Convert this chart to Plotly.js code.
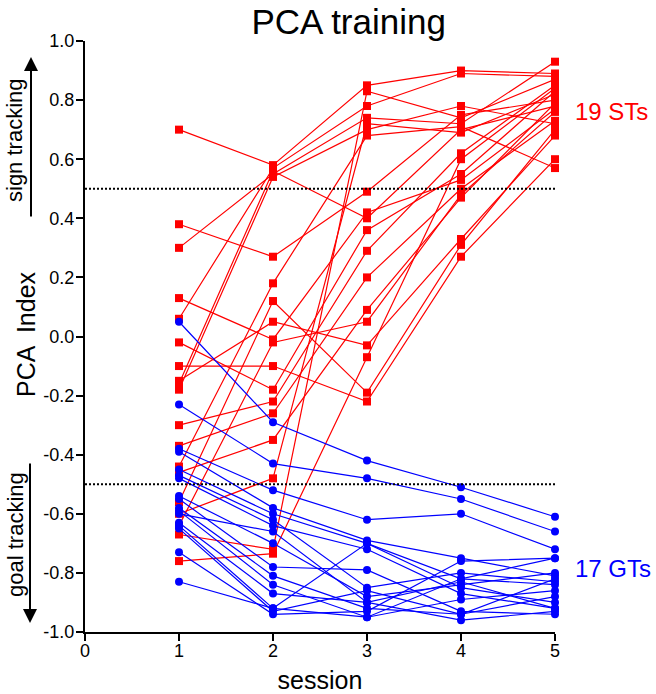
<!DOCTYPE html>
<html>
<head>
<meta charset="utf-8">
<script src="https://cdn.plot.ly/plotly-3.0.1.min.js"></script>
<style>html,body{margin:0;padding:0;background:#fff;}#chart{width:656px;height:694px;}</style>
</head>
<body>
<div id="chart"></div>
<script>
// ---- data ----
const sessions = [1, 2, 3, 4, 5];
const xTickVals = [0, 1, 2, 3, 4, 5];
const yTickVals = [1.0, 0.8, 0.6, 0.4, 0.2, 0.0, -0.2, -0.4, -0.6, -0.8, -1.0];
const thresholds = [0.5, -0.5];

// sign trackers (STs), PCA index per session
const stRats = [
  [0.70, 0.58, 0.85, 0.90, 0.89],
  [0.38, 0.27, 0.49, 0.75, 0.80],
  [0.30, 0.55, 0.74, 0.72, 0.93],
  [0.13, -0.01, 0.42, 0.53, 0.77],
  [0.06, 0.57, 0.78, 0.89, 0.88],
  [-0.02, -0.18, 0.36, 0.55, 0.83],
  [-0.10, -0.10, -0.22, 0.27, 0.60],
  [-0.15, 0.05, -0.03, 0.33, 0.68],
  [-0.18, 0.54, 0.70, 0.78, 0.72],
  [-0.30, -0.22, 0.29, 0.62, 0.85],
  [-0.37, -0.26, 0.20, 0.50, 0.73],
  [-0.44, 0.18, 0.68, 0.71, 0.57],
  [-0.46, -0.35, 0.09, 0.47, 0.79],
  [-0.56, 0.12, -0.19, 0.31, 0.70],
  [-0.60, -0.48, 0.72, 0.69, 0.82],
  [-0.64, -0.02, 0.05, 0.48, 0.76],
  [-0.67, -0.72, 0.83, 0.74, 0.87],
  [-0.76, -0.735, -0.07, 0.60, 0.84],
  [-0.16, 0.56, 0.40, 0.70, 0.78]
];

// goal trackers (GTs)
const gtRats = [
  [0.05, -0.29, -0.42, -0.51, -0.61],
  [-0.23, -0.43, -0.48, -0.55, -0.66],
  [-0.38, -0.52, -0.62, -0.60, -0.72],
  [-0.39, -0.58, -0.69, -0.75, -0.81],
  [-0.45, -0.60, -0.70, -0.82, -0.75],
  [-0.47, -0.62, -0.85, -0.80, -0.83],
  [-0.48, -0.64, -0.72, -0.87, -0.92],
  [-0.54, -0.70, -0.88, -0.84, -0.80],
  [-0.55, -0.78, -0.79, -0.93, -0.94],
  [-0.58, -0.81, -0.92, -0.94, -0.88],
  [-0.59, -0.84, -0.95, -0.82, -0.84],
  [-0.63, -0.87, -0.90, -0.96, -0.93],
  [-0.64, -0.92, -0.70, -0.85, -0.90],
  [-0.65, -0.93, -0.86, -0.94, -0.82],
  [-0.73, -0.94, -0.93, -0.76, -0.75],
  [-0.83, -0.92, -0.95, -0.89, -0.86],
  [-0.60, -0.66, -0.90, -0.83, -0.92]
];

const stLabel = '19 STs';
const gtLabel = '17 GTs';

// ---- build ----
const RED = '#ff0000', BLUE = '#0000ff';
const FONT = 'Liberation Sans, Arial, Helvetica, sans-serif';
const traces = [];
stRats.forEach(r => traces.push({
  x: sessions, y: r, type: 'scatter', mode: 'lines+markers',
  line: {color: RED, width: 1.2},
  marker: {symbol: 'square', size: 8, color: RED},
  cliponaxis: false, showlegend: false, hoverinfo: 'skip'
}));
gtRats.forEach(r => traces.push({
  x: sessions, y: r, type: 'scatter', mode: 'lines+markers',
  line: {color: BLUE, width: 1.2},
  marker: {symbol: 'circle', size: 8, color: BLUE},
  cliponaxis: false, showlegend: false, hoverinfo: 'skip'
}));

// plot box in pixels: x 85..555, y 41..632
const L = 85, R = 555, T = 41, B = 632, W = 656, H = 694;
const px = v => (v - L) / (R - L);
const py = v => (B - v) / (B - T);

const layout = {
  width: W, height: H,
  margin: {l: L, r: W - R, t: T, b: H - B, pad: 0},
  paper_bgcolor: '#fff', plot_bgcolor: '#fff',
  font: {family: FONT, color: '#000', size: 18},
  title: {text: 'PCA training', font: {size: 35, family: FONT, color: '#000'},
          x: 368 / W, xanchor: 'center', xref: 'paper', yref: 'container', y: 1 - 22 / H, yanchor: 'middle'},
  xaxis: {
    range: [0, 5], tickvals: xTickVals, ticktext: xTickVals.map(String),
    ticks: 'outside', ticklen: 7, tickwidth: 2, tickcolor: '#000',
    ticklabelstandoff: -6,
    showline: true, linewidth: 2, linecolor: '#000',
    showgrid: false, zeroline: false, fixedrange: true,
    tickfont: {size: 18, family: FONT},
    title: {text: 'session', font: {size: 25, family: FONT}, standoff: 14}
  },
  yaxis: {
    range: [-1, 1], tickvals: yTickVals, ticktext: yTickVals.map(v => v.toFixed(1)),
    ticks: 'outside', ticklen: 7, tickwidth: 2, tickcolor: '#000',
    ticklabelstandoff: -2,
    showline: true, linewidth: 2, linecolor: '#000',
    showgrid: false, zeroline: false, fixedrange: true,
    tickfont: {size: 18, family: FONT}
  },
  shapes: thresholds.map(t => ({
    type: 'line', xref: 'x', yref: 'y', x0: 0, x1: 5, y0: t, y1: t,
    line: {color: '#000', width: 2, dash: '2px,2px'}
  })),
  annotations: [
    {text: 'PCA  Index', xref: 'paper', yref: 'paper', x: px(26), y: py(334),
     textangle: -90, showarrow: false, xanchor: 'center', yanchor: 'middle',
     font: {size: 25, family: FONT}},
    {text: 'sign tracking', xref: 'paper', yref: 'paper', x: px(15), y: py(140),
     textangle: -90, showarrow: false, xanchor: 'center', yanchor: 'middle',
     font: {size: 22, family: FONT}},
    {text: 'goal tracking', xref: 'paper', yref: 'paper', x: px(15), y: py(535),
     textangle: -90, showarrow: false, xanchor: 'center', yanchor: 'middle',
     font: {size: 22, family: FONT}},
    {text: '', xref: 'paper', yref: 'paper', x: px(31), y: py(57),
     showarrow: true, ax: 0, ay: 161, arrowhead: 2, arrowsize: 1.4, arrowwidth: 2, arrowcolor: '#000'},
    {text: '', xref: 'paper', yref: 'paper', x: px(30), y: py(623),
     showarrow: true, ax: 0, ay: -161, arrowhead: 2, arrowsize: 1.4, arrowwidth: 2, arrowcolor: '#000'},
    {text: stLabel, xref: 'paper', yref: 'paper', x: px(573), y: py(112),
     showarrow: false, xanchor: 'left', yanchor: 'middle', font: {size: 24, family: FONT, color: RED}},
    {text: gtLabel, xref: 'paper', yref: 'paper', x: px(573), y: py(568),
     showarrow: false, xanchor: 'left', yanchor: 'middle', font: {size: 24, family: FONT, color: BLUE}}
  ]
};

Plotly.newPlot('chart', traces, layout, {displayModeBar: false, staticPlot: true});
</script>
</body>
</html>
